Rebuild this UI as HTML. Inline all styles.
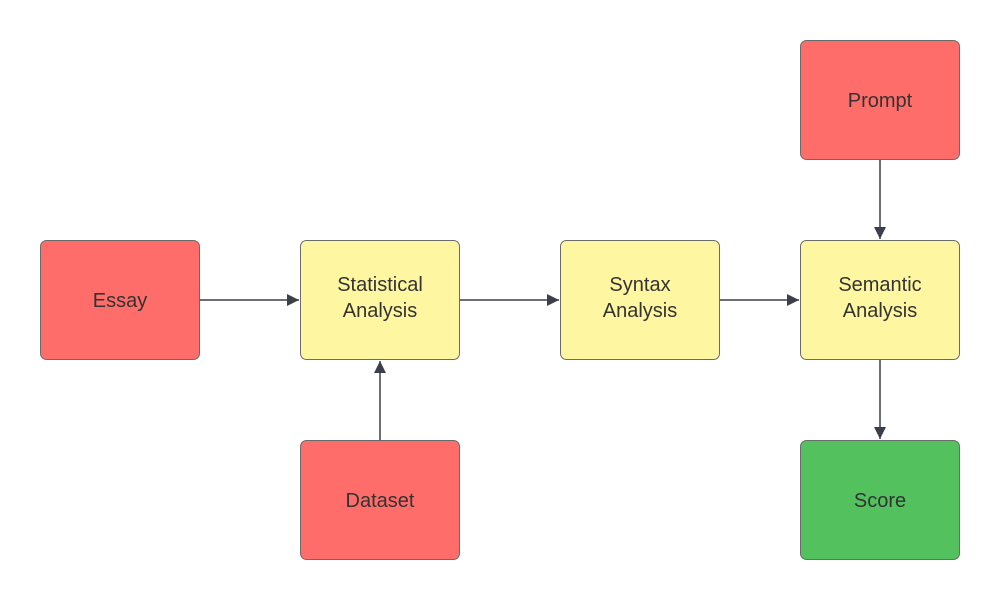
<!DOCTYPE html>
<html><head><meta charset="utf-8"><style>
html,body{margin:0;padding:0;background:#fff;}
svg{display:block;}
text{font-family:"Liberation Sans",sans-serif;font-size:20px;fill:#333;text-anchor:middle;}
</style></head><body>
<svg width="1000" height="600" viewBox="0 0 1000 600">
<defs>
<marker id="a" markerWidth="12" markerHeight="12" refX="12" refY="6" orient="auto" markerUnits="userSpaceOnUse">
<path d="M0,0 L12,6 L0,12 Z" fill="#3a3f4b"/></marker>
</defs>
<g stroke="#6b6b6b" stroke-width="1">
<rect x="40.5" y="240.5" width="159" height="119" rx="6" fill="#ff6d6a"/>
<rect x="300.5" y="240.5" width="159" height="119" rx="6" fill="#fff6a1"/>
<rect x="560.5" y="240.5" width="159" height="119" rx="6" fill="#fff6a1"/>
<rect x="800.5" y="240.5" width="159" height="119" rx="6" fill="#fff6a1"/>
<rect x="800.5" y="40.5" width="159" height="119" rx="6" fill="#ff6d6a"/>
<rect x="300.5" y="440.5" width="159" height="119" rx="6" fill="#ff6d6a"/>
<rect x="800.5" y="440.5" width="159" height="119" rx="6" fill="#52c15e"/>
</g>
<g stroke="#3a3f4b" stroke-width="1.5" fill="none">
<line x1="200" y1="300" x2="299" y2="300" marker-end="url(#a)"/>
<line x1="460" y1="300" x2="559" y2="300" marker-end="url(#a)"/>
<line x1="720" y1="300" x2="799" y2="300" marker-end="url(#a)"/>
<line x1="880" y1="160" x2="880" y2="239" marker-end="url(#a)"/>
<line x1="880" y1="360" x2="880" y2="439" marker-end="url(#a)"/>
<line x1="380" y1="440" x2="380" y2="361" marker-end="url(#a)"/>
</g>
<text x="120" y="307">Essay</text>
<text x="380" y="291">Statistical</text><text x="380" y="317">Analysis</text>
<text x="640" y="291">Syntax</text><text x="640" y="317">Analysis</text>
<text x="880" y="291">Semantic</text><text x="880" y="317">Analysis</text>
<text x="880" y="107">Prompt</text>
<text x="380" y="507">Dataset</text>
<text x="880" y="507">Score</text>
</svg>
</body></html>
